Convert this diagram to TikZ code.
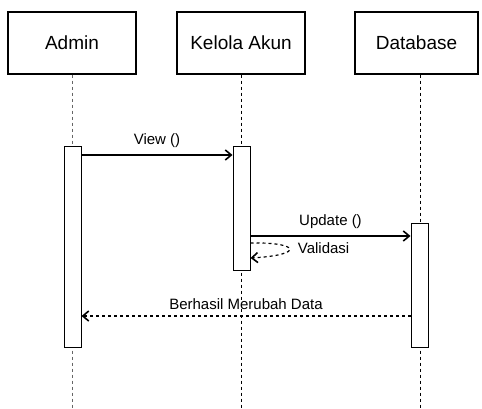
\documentclass[tikz,border=0pt]{standalone}
\usepackage{fontspec}
\setmainfont{Liberation Sans}
\usetikzlibrary{arrows.meta}

\begin{document}
\begin{tikzpicture}[x=1pt, y=-1pt, font=\fontsize{19}{21}\selectfont,
    actor/.style={draw, line width=1.4pt, minimum width=128, minimum height=62, inner sep=0},
    life/.style={dashed, thin, gray!80!black},
    act/.style={draw, line width=1pt, fill=white, minimum width=17, inner sep=0},
    msg/.style={line width=1.2pt, -{Straight Barb[length=6pt,width=10pt,line width=1.6pt]}},
    ret/.style={line width=1.2pt, dashed, -{Straight Barb[length=6pt,width=10pt,line width=1.6pt]}},
    lbl/.style={font=\fontsize{15}{17}\selectfont}]
  \useasboundingbox (0,0) rectangle (482,409);
  % lifelines
  \node[actor] (admin) at (72,43) {Admin};
  \node[actor] (kelola) at (241,43) {Kelola Akun};
  \node[actor, minimum width=123] (db) at (416.5,43) {Database};
  \coordinate (adminEnd) at (72,409);
  \coordinate (kelolaEnd) at (241,409);
  \coordinate (dbEnd) at (420,409);
  \draw[life] (admin.south) -- (adminEnd);
  \draw[life, thick, black] (kelola.south) -- (kelolaEnd);
  \draw[life, thick, black] (admin.south -| dbEnd) -- (dbEnd);
  % activations
  \node[act, minimum height=200] (aAdmin) at (72.5,247) {};
  \node[act, minimum height=123] (aKelola) at (241.5,208.5) {};
  \node[act, minimum height=124] (aDb) at (419.5,285) {};
  % messages
  \draw[msg] (aAdmin.east |- 0,155) -- node[lbl, above=3pt] {View ()} (aKelola.west |- 0,155);
  \draw[msg] (aKelola.east |- 0,236) -- node[lbl, above=3pt] {Update ()} (aDb.west |- 0,236);
  \draw[ret] (aKelola.east |- 0,243) .. controls (300,242) and (305,255) .. (aKelola.east |- 0,258)
    node[lbl, pos=0.45, right=5pt] {Validasi};
  \draw[ret] (aDb.west |- 0,316) -- node[lbl, above=2pt] {Berhasil Merubah Data} (aAdmin.east |- 0,316);
\end{tikzpicture}
\end{document}
